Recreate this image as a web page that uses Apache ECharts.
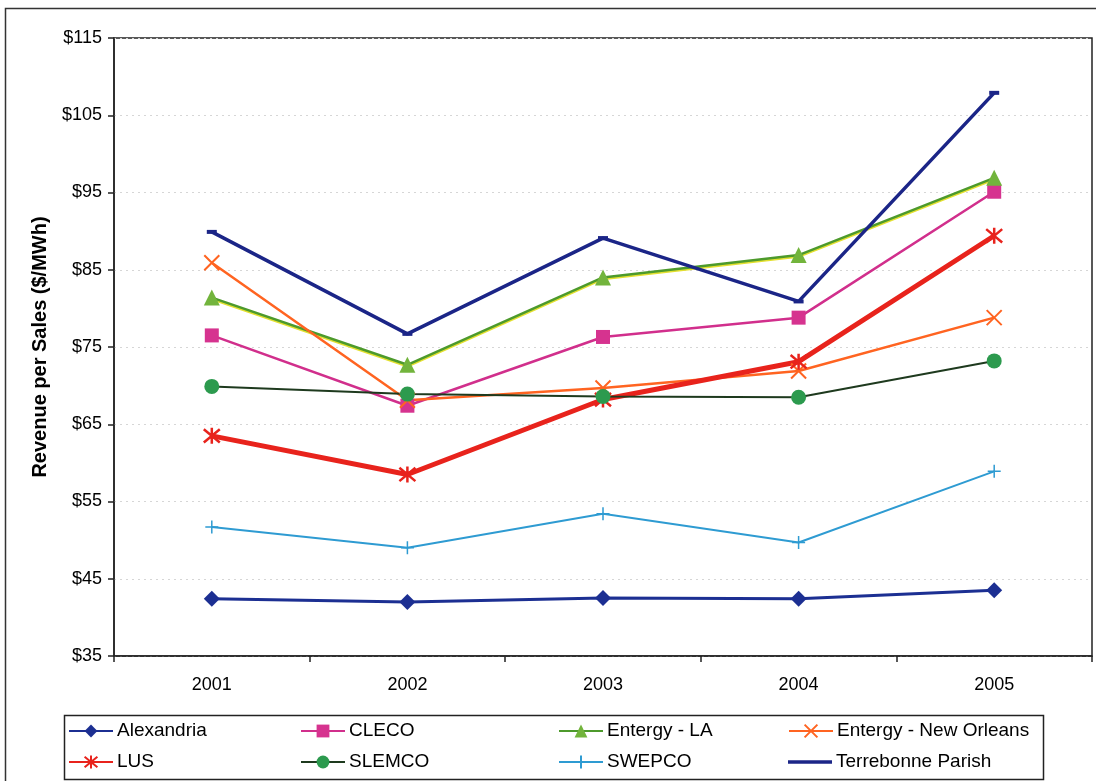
<!DOCTYPE html>
<html>
<head>
<meta charset="utf-8">
<title>Revenue per Sales ($/MWh)</title>
<script src="https://cdn.jsdelivr.net/npm/echarts@6/dist/echarts.min.js"></script>
<style>
  html, body { margin: 0; padding: 0; background: #fff; }
  #chart { width: 1096px; height: 781px; }
</style>
</head>
<body>
<div id="chart"></div>
<script>
// Years on the category axis
const years = ['2001', '2002', '2003', '2004', '2005'];

// Revenue per sales, $/MWh, one array per utility
const alexandria  = [42.4, 42.0, 42.5, 42.4, 43.5];
const cleco       = [76.5, 67.4, 76.3, 78.8, 95.1];
const entergyLA   = [81.4, 72.7, 84.0, 86.9, 96.9];
const entergyNO   = [85.9, 68.1, 69.7, 71.9, 78.8];
const lus         = [63.5, 58.5, 68.2, 73.1, 89.4];
const slemco      = [69.9, 68.9, 68.6, 68.5, 73.2];
const swepco      = [51.7, 49.0, 53.4, 49.7, 58.9];
const terrebonne  = [89.9, 76.7, 89.1, 80.9, 107.9];

// Value axis range and step
const yMin = 35, yMax = 115, yStep = 10;

const FONT = '"Liberation Sans", Arial, sans-serif';

// Marker outlines drawn as strokes
const SYM_X = 'path://M0,0L10,10M10,0L0,10';
const SYM_STAR = 'path://M0,0L10,10M10,0L0,10M5,-1L5,11';
const SYM_PLUS = 'path://M5,0L5,10M0,5L10,5';

function strokeSeries(name, data, color, width, symbol, size, sw) {
  return {
    name, type: 'line', data,
    symbol, symbolSize: size, showSymbol: true,
    lineStyle: { color, width },
    itemStyle: { color, borderColor: color, borderWidth: sw },
    emphasis: { disabled: true }, animation: false
  };
}

const series = [
  {
    name: 'Alexandria', type: 'line', data: alexandria,
    symbol: 'diamond', symbolSize: 16,
    lineStyle: { color: '#1c2f92', width: 3 },
    itemStyle: { color: '#1c2f92' },
    emphasis: { disabled: true }, animation: false
  },
  {
    name: 'CLECO', type: 'line', data: cleco,
    symbol: 'rect', symbolSize: 14,
    lineStyle: { color: '#d12f8c', width: 2.5 },
    itemStyle: { color: '#d6338f' },
    emphasis: { disabled: true }, animation: false
  },
  {
    name: 'Entergy - LA', type: 'line', data: entergyLA,
    symbol: 'triangle', symbolSize: 16,
    lineStyle: { color: '#4d9a2c', width: 2.5, shadowColor: '#e4e030', shadowOffsetY: 1.5, shadowBlur: 0 },
    itemStyle: { color: '#72b43c' },
    emphasis: { disabled: true }, animation: false
  },
  strokeSeries('Entergy - New Orleans', entergyNO, '#ff6421', 2.5, SYM_X, 15, 2),
  strokeSeries('LUS', lus, '#e8231c', 5, SYM_STAR, 16, 2.5),
  {
    name: 'SLEMCO', type: 'line', data: slemco,
    symbol: 'circle', symbolSize: 15,
    lineStyle: { color: '#1e3a1e', width: 2 },
    itemStyle: { color: '#2c9a4e' },
    emphasis: { disabled: true }, animation: false
  },
  strokeSeries('SWEPCO', swepco, '#2e9bd2', 2, SYM_PLUS, 13, 1.5),
  {
    name: 'Terrebonne Parish', type: 'line', data: terrebonne,
    symbol: 'rect', symbolSize: [10, 4],
    lineStyle: { color: '#1b2587', width: 3.5 },
    itemStyle: { color: '#1b2587' },
    emphasis: { disabled: true }, animation: false
  }
];

// Legend: four columns, two rows, inside a framed box
const colX = [68, 300, 558, 788];
const rowY = [720, 751];
const legends = series.map((s, i) => {
  const plainLine = s.name === 'Terrebonne Parish';
  return {
    data: plainLine ? [{ name: s.name, icon: 'rect' }] : [s.name],
    left: colX[i % 4],
    top: rowY[Math.floor(i / 4)] + (plainLine ? 0 : 0),
    padding: 0,
    itemWidth: 44,
    itemHeight: plainLine ? 3.5 : 16,
    itemGap: 4,
    selectedMode: false,
    textStyle: { fontFamily: FONT, fontSize: 19, color: '#000', lineHeight: 22, padding: [0, 0, 0, -1] }
  };
});

const chart = echarts.init(document.getElementById('chart'), null, { renderer: 'canvas' });
chart.setOption({
  backgroundColor: '#fff',
  animation: false,
  grid: {
    left: 114, right: 4, top: 38, bottom: 125,
    show: true, borderColor: '#222', borderWidth: 1.5, backgroundColor: 'transparent'
  },
  xAxis: {
    type: 'category', data: years, boundaryGap: true,
    axisLine: { lineStyle: { color: '#222', width: 1.5 } },
    axisTick: { show: true, inside: false, length: 6, lineStyle: { color: '#222', width: 1.5 } },
    axisLabel: { color: '#000', fontFamily: FONT, fontSize: 18, margin: 20 },
    splitLine: { show: false }
  },
  yAxis: {
    type: 'value', min: yMin, max: yMax, interval: yStep,
    name: 'Revenue per Sales ($/MWh)', nameLocation: 'middle', nameGap: 64,
    nameTextStyle: { color: '#000', fontFamily: FONT, fontSize: 20, fontWeight: 'bold' },
    axisLine: { show: true, lineStyle: { color: '#222', width: 1.5 } },
    axisTick: { show: true, inside: false, length: 6, lineStyle: { color: '#222', width: 1.5 } },
    axisLabel: { color: '#000', fontFamily: FONT, fontSize: 18, margin: 12, formatter: v => '$' + v },
    splitLine: { show: true, lineStyle: { color: '#d6d6d6', width: 1, type: [2, 4] } }
  },
  legend: legends,
  graphic: [
    { type: 'rect', shape: { x: 5.5, y: 8.5, width: 1200, height: 900 },
      style: { fill: 'none', stroke: '#333', lineWidth: 1.5 }, silent: true, z: -1 },
    { type: 'rect', shape: { x: 64.5, y: 715.5, width: 979, height: 64 },
      style: { fill: 'none', stroke: '#222', lineWidth: 1.5 }, silent: true }
  ],
  series
});
</script>
</body>
</html>
